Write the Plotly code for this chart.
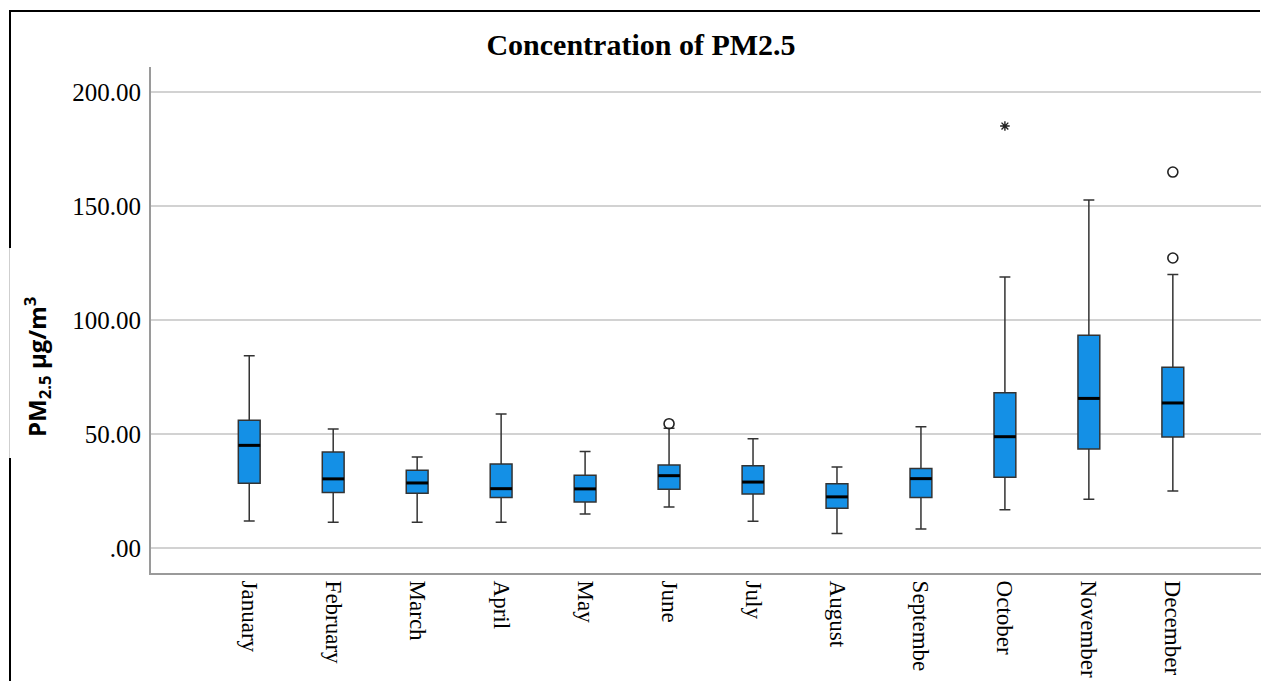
import plotly.graph_objects as go

# Monthly PM2.5 box-plot statistics (µg/m3)
months = ["January", "February", "March", "April", "May", "June",
          "July", "August", "Septembe", "October", "November", "December"]
lower_whisker = [11.8, 11.3, 11.3, 11.3, 14.9, 18.0, 11.7, 6.3, 8.3, 16.7, 21.4, 25.0]
q1 = [28.4, 24.3, 24.0, 22.1, 20.2, 25.7, 23.7, 17.4, 22.1, 31.0, 43.4, 48.7]
median = [45.0, 30.3, 28.5, 26.0, 25.9, 31.7, 28.9, 22.4, 30.4, 48.8, 65.6, 63.6]
q3 = [56.0, 42.1, 34.1, 36.8, 31.9, 36.4, 36.1, 28.2, 34.8, 68.1, 93.3, 79.3]
upper_whisker = [84.3, 52.2, 39.9, 58.8, 42.3, 52.5, 47.9, 35.5, 53.2, 118.9, 152.6, 120.0]

# Outliers (circles) and extreme values (stars)
outlier_month = ["June", "December", "December"]
outlier_value = [54.5, 164.9, 127.2]
extreme_month = ["October"]
extreme_value = [185.1]

y_ticks = [0, 50, 100, 150, 200]
y_tick_text = [".00", "50.00", "100.00", "150.00", "200.00"]

pos = {m: i for i, m in enumerate(months)}
x_pos = [pos[m] for m in months]
BOX_W = 0.26

fig = go.Figure()

fig.add_trace(go.Box(
    x=x_pos,
    q1=q1, median=median, q3=q3,
    lowerfence=lower_whisker, upperfence=upper_whisker,
    width=BOX_W,
    whiskerwidth=0.5,
    fillcolor="#1490e6",
    line=dict(color="#333333", width=1.5),
    boxpoints=False,
    hoverinfo="skip",
    showlegend=False,
))

# Heavier median bars across each box
mx, my = [], []
for i, m in zip(x_pos, median):
    mx += [i - BOX_W / 2, i + BOX_W / 2, None]
    my += [m, m, None]
fig.add_trace(go.Scatter(x=mx, y=my, mode="lines",
                         line=dict(color="black", width=3),
                         hoverinfo="skip", showlegend=False))

fig.add_trace(go.Scatter(
    x=[pos[m] for m in outlier_month], y=outlier_value, mode="markers",
    marker=dict(symbol="circle-open", size=10, color="#222",
                line=dict(width=1.6, color="#222")),
    hoverinfo="skip", showlegend=False))

fig.add_trace(go.Scatter(
    x=[pos[m] for m in extreme_month], y=extreme_value, mode="markers",
    marker=dict(symbol="asterisk-open", size=8, color="#222",
                line=dict(width=1.4, color="#222")),
    hoverinfo="skip", showlegend=False))

W, H = 1261, 682
L, R, T, B = 151, 0, 67, 109
pw, ph = W - L - R, H - T - B


def px_x(p):
    return (p - L) / pw


def px_y(p):
    return (H - B - p) / ph


serif = "Liberation Serif, Times New Roman, serif"

fig.update_layout(
    width=W, height=H,
    margin=dict(l=L, r=R, t=T, b=B, pad=0),
    paper_bgcolor="white", plot_bgcolor="white",
    title=dict(text="<b>Concentration of PM2.5</b>",
               x=641 / W, xanchor="center", xref="container",
               y=1 - 44 / H, yanchor="middle", yref="container",
               font=dict(family=serif, size=30, color="black")),
    xaxis=dict(range=[-1.17, 12.05], tickmode="array", tickvals=x_pos,
               ticktext=months, tickangle=90,
               tickfont=dict(family=serif, size=23, color="black"),
               showgrid=False, zeroline=False,
               showline=True, linecolor="#9a9a9a", linewidth=2,
               ticks="outside", ticklen=1, tickcolor="rgba(0,0,0,0)"),
    yaxis=dict(range=[-11, 211], tickmode="array", tickvals=y_ticks,
               ticktext=y_tick_text,
               tickfont=dict(family=serif, size=25, color="black"),
               showgrid=True, gridcolor="#d2d2d2", gridwidth=1.5,
               zeroline=False,
               showline=True, linecolor="#9a9a9a", linewidth=2,
               ticks="outside", ticklen=3, tickcolor="rgba(0,0,0,0)"),
)

# Outer frame (top and left edges), broken by a white panel behind the y-axis title
frame = dict(color="black", width=2)
fig.add_shape(type="line", xref="paper", yref="paper",
              x0=px_x(9), x1=px_x(W - 1), y0=px_y(11), y1=px_y(11), line=frame)
fig.add_shape(type="line", xref="paper", yref="paper",
              x0=px_x(10), x1=px_x(10), y0=px_y(11), y1=px_y(248), line=frame)
fig.add_shape(type="line", xref="paper", yref="paper",
              x0=px_x(10), x1=px_x(10), y0=px_y(458), y1=px_y(H - 1), line=frame)
fig.add_shape(type="line", xref="paper", yref="paper",
              x0=px_x(9.5), x1=px_x(9.5), y0=px_y(458), y1=px_y(248),
              line=dict(color="#cfcfcf", width=1))

fig.add_annotation(
    text="<b>PM<sub>2.5</sub> µg/m<sup>3</sup></b>",
    xref="paper", yref="paper", x=px_x(37), y=px_y(367),
    xanchor="center", yanchor="middle", textangle=-90, showarrow=False,
    font=dict(family="Open Sans, Liberation Sans, sans-serif", size=24,
              color="black"))

fig.write_html("out.html", config={"displayModeBar": False})
